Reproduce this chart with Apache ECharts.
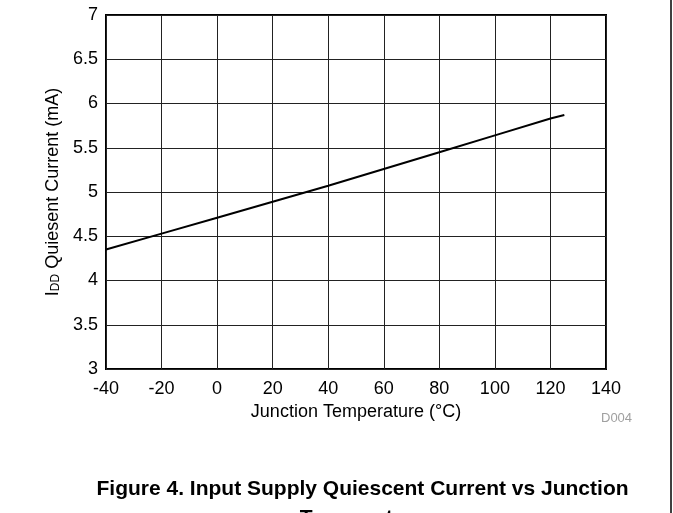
<!DOCTYPE html>
<html><head><meta charset="utf-8">
<script src="https://cdn.jsdelivr.net/npm/echarts@6/dist/echarts.min.js"></script>
<style>html,body{margin:0;padding:0;background:#fff}#c{width:673px;height:513px}</style>
</head><body><div id="c"></div>
<script>
const temperatures = [-40, -20, 0, 20, 40, 60, 80, 100, 120, 125];
const iddCurrent = [4.35, 4.53, 4.71, 4.89, 5.07, 5.26, 5.45, 5.64, 5.83, 5.87];
const xTicks = [-40, -20, 0, 20, 40, 60, 80, 100, 120, 140];
const yTicks = [3, 3.5, 4, 4.5, 5, 5.5, 6, 6.5, 7];
const captionLine1 = 'Figure 4. Input Supply Quiescent Current vs Junction';
const captionLine2 = 'Temperature';

const chart = echarts.init(document.getElementById('c'));
const font = 'Liberation Sans, Arial, sans-serif';
chart.setOption({
  animation: false,
  backgroundColor: '#fff',
  grid: {left: 106, right: 67, top: 15, bottom: 144, show: true, borderColor: '#000', borderWidth: 2},
  xAxis: {
    type: 'value', min: xTicks[0], max: xTicks[xTicks.length-1], interval: 20,
    name: 'Junction Temperature (°C)', nameLocation: 'middle', nameGap: 32,
    nameTextStyle: {fontFamily: font, fontSize: 18, color: '#000'},
    axisLine: {show: false}, axisTick: {show: false},
    axisLabel: {fontFamily: font, fontSize: 18, color: '#000', margin: 11},
    splitLine: {show: true, lineStyle: {color: '#222', width: 1}}
  },
  yAxis: {
    type: 'value', min: yTicks[0], max: yTicks[yTicks.length-1], interval: 0.5,
    name: '{a|I}{s|DD}{a| Quiesent Current (mA)}', nameLocation: 'middle', nameGap: 41,
    nameTextStyle: {fontFamily: font, fontSize: 18, color: '#000',
      rich: {a: {fontFamily: font, fontSize: 18, color: '#000', verticalAlign: 'bottom', lineHeight: 22},
             s: {fontFamily: font, fontSize: 12, color: '#000', verticalAlign: 'bottom', lineHeight: 16}}},
    axisLine: {show: false}, axisTick: {show: false},
    axisLabel: {fontFamily: font, fontSize: 18, color: '#000', margin: 8},
    splitLine: {show: true, lineStyle: {color: '#222', width: 1}}
  },
  series: [{
    type: 'line', data: temperatures.map((t, i) => [t, iddCurrent[i]]),
    showSymbol: false, lineStyle: {color: '#000', width: 2}, smooth: false, z: 5
  }],
  graphic: [
    {type: 'text', left: 601, top: 412, style: {text: 'D004', fontFamily: font, fontSize: 13, fill: '#a0a0a0'}},
    {type: 'text', x: 362.5, y: 479, style: {text: captionLine1, fontFamily: font, fontSize: 21, fontWeight: 'bold', fill: '#000', align: 'center', verticalAlign: 'top'}},
    {type: 'text', x: 362.5, y: 508, style: {text: captionLine2, fontFamily: font, fontSize: 21, fontWeight: 'bold', fill: '#000', align: 'center', verticalAlign: 'top'}},
    {type: 'line', shape: {x1: 671, y1: 0, x2: 671, y2: 513}, style: {stroke: '#000', lineWidth: 1.5}}
  ]
});
</script></body></html>
